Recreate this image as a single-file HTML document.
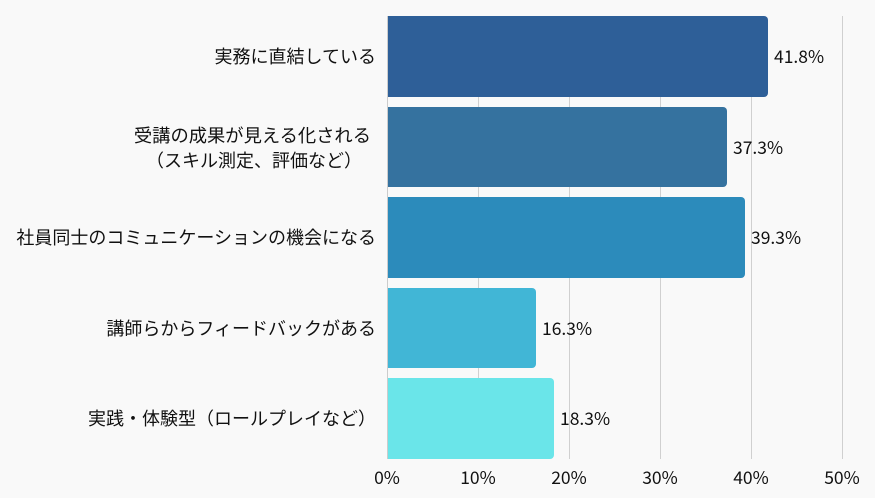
<!DOCTYPE html>
<html><head><meta charset="utf-8"><style>
body{margin:0;background:#f9f9f9;}
svg text{font-family:"Noto Sans CJK JP","Liberation Sans",sans-serif;font-size:17.5px;fill:#111;}
svg text.l{font-size:18px;}
</style></head><body>
<svg width="875" height="493" xmlns="http://www.w3.org/2000/svg">
<rect width="875" height="493" fill="#f9f9f9"/>
<g stroke="#d0d0d0" stroke-width="1">
<line x1="478.5" y1="16" x2="478.5" y2="459"/>
<line x1="569.5" y1="16" x2="569.5" y2="459"/>
<line x1="660.5" y1="16" x2="660.5" y2="459"/>
<line x1="751.5" y1="16" x2="751.5" y2="459"/>
<line x1="842.5" y1="16" x2="842.5" y2="459"/>
</g>
<g>
<path d="M387 16H764a4 4 0 0 1 4 4V93a4 4 0 0 1-4 4H387Z" fill="#2e5f98"/>
<path d="M387 107H723a4 4 0 0 1 4 4V183a4 4 0 0 1-4 4H387Z" fill="#35729f"/>
<path d="M387 197H741a4 4 0 0 1 4 4V274a4 4 0 0 1-4 4H387Z" fill="#2c8bbb"/>
<path d="M387 288H532a4 4 0 0 1 4 4V364a4 4 0 0 1-4 4H387Z" fill="#41b6d6"/>
<path d="M387 378H550a4 4 0 0 1 4 4V455a4 4 0 0 1-4 4H387Z" fill="#6ae5e9"/>
</g>
<line x1="387.5" y1="16" x2="387.5" y2="459" stroke="#ccc"/>
<g>
<text x="774" y="63">41.8%</text>
<text x="733" y="154">37.3%</text>
<text x="751" y="244">39.3%</text>
<text x="542" y="335">16.3%</text>
<text x="560" y="425">18.3%</text>
</g>
<g text-anchor="end">
<text class="l" x="376" y="63">実務に直結している</text>
<text class="l" x="371" y="142" style="font-size:18.3px">受講の成果が見える化される</text>
<text class="l" x="362" y="167">（スキル測定、評価など）</text>
<text class="l" x="376" y="244">社員同士のコミュニケーションの機会になる</text>
<text class="l" x="376" y="335">講師らからフィードバックがある</text>
<text class="l" x="376" y="425">実践・体験型（ロールプレイなど）</text>
</g>
<g text-anchor="middle">
<text x="387" y="484">0%</text>
<text x="478" y="484">10%</text>
<text x="569" y="484">20%</text>
<text x="660" y="484">30%</text>
<text x="751" y="484">40%</text>
<text x="842" y="484">50%</text>
</g>
</svg>
</body></html>
